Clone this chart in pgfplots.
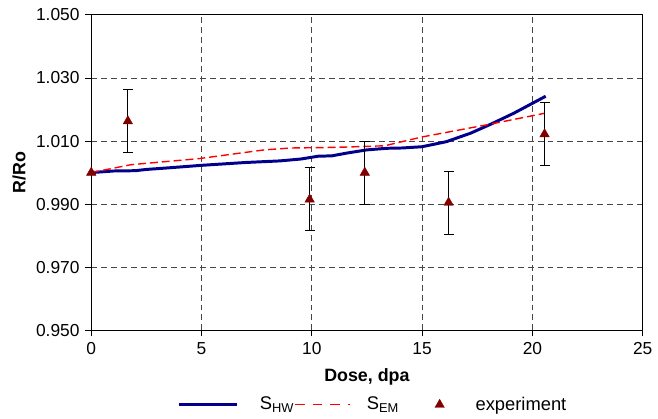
\documentclass[border=0pt]{standalone}
\usepackage{fontspec}
\setmainfont{Liberation Sans}
\usepackage{pgfplots}
\pgfplotsset{compat=1.18}
\definecolor{hwblue}{RGB}{0,0,140}
\definecolor{emred}{RGB}{255,0,0}
\definecolor{expred}{RGB}{128,0,0}
\definecolor{gridgray}{RGB}{70,70,70}
\begin{document}
\fontsize{17bp}{20bp}\selectfont
\begin{tikzpicture}
\begin{axis}[
  scale only axis, width=556bp, height=318bp,
  xmin=0, xmax=25, ymin=0.95, ymax=1.05,
  xtick={0,5,10,15,20,25},
  ytick={0.95,0.97,0.99,1.01,1.03,1.05},
  yticklabel style={/pgf/number format/.cd, fixed, fixed zerofill, precision=3},
  /pgf/number format/assume math mode=true,
  tick label style={font=\fontsize{17.5bp}{20bp}\selectfont},
  grid=major,
  grid style={gridgray, line width=0.9bp, dash pattern=on 6bp off 4bp},
  tick align=outside, xtick pos=bottom, ytick pos=left,
  major tick length=6bp,
  tick style={black, line width=0.9bp},
  axis line style={black, line width=1bp},
  xlabel={\textbf{Dose, dpa}},
  ylabel={\textbf{R/Ro}},
  label style={font=\fontsize{18bp}{21bp}\selectfont},
  x label style={at={(axis description cs:0.5,-0.148)}, anchor=center},
  y label style={at={(axis description cs:-0.131,0.5)}, anchor=center},
  legend columns=3,
  legend style={at={(0.509,-0.236)}, anchor=center, draw=none, fill=none,
    font=\fontsize{18.5bp}{22bp}\selectfont,
    nodes={inner xsep=0bp},
    column sep=0bp},
]
\addplot[hwblue, line width=3bp, legend image code/.code={\draw[hwblue, line width=3bp] (0bp,0bp) -- (58bp,0bp); \path (80bp,0bp);}] table {
x y
0 1.0000
1 1.0005
2 1.0006
2.5 1.0010
3.5 1.0015
5 1.0023
7 1.0032
8.55 1.0037
9.5 1.0043
10.3 1.0052
10.9 1.0053
11.6 1.0062
12.5 1.0072
13.4 1.0077
14.1 1.0078
15.0 1.0082
16.1 1.0098
17.2 1.0125
18.1 1.0153
19.15 1.0188
20.6 1.0242
};
\addlegendentry{S\textsubscript{HW}}
\addplot[emred, line width=1.4bp, dash pattern=on 8bp off 4bp, legend image code/.code={\draw[emred, line width=1.4bp, dash pattern=on 10bp off 8bp] (0bp,0bp) -- (56bp,0bp); \path (72bp,0bp);}] table {
x y
0 1.0000
1.8 1.0025
4.85 1.0044
7.85 1.0072
9.05 1.0078
10.3 1.0079
11.6 1.0081
13.3 1.0085
15.0 1.0113
18.05 1.0153
20.55 1.0188
};
\addlegendentry{S\textsubscript{EM}}
\addplot[only marks, mark=triangle*, mark size=5.5bp, mark options={expred, fill=expred},
  legend image code/.code={\path (0bp,0bp) (77bp,0bp); \draw[expred, fill=expred] plot[only marks, mark=triangle*, mark size=5.5bp] coordinates {(41bp,0bp)};},
  error bars/.cd, y dir=both, y explicit, error bar style={black, line width=1bp},
  error mark options={black, line width=1bp, rotate=90, mark size=5bp}] table[x=x, y=y, y error=e] {
x y e
1.66 1.0163 0.0100
9.9 0.9915 0.0100
12.4 1.0000 0.0100
16.2 0.9905 0.0100
20.55 1.0122 0.0101
};
\addlegendentry{experiment}
\addplot[only marks, mark=triangle*, mark size=5.5bp, mark options={expred, fill=expred}, forget plot] coordinates {(0,1.000)};
\end{axis}
\path ([shift={(-92bp,-89bp)}]current axis.south west) rectangle ([shift={(10bp,15bp)}]current axis.north east);
\end{tikzpicture}
\end{document}
